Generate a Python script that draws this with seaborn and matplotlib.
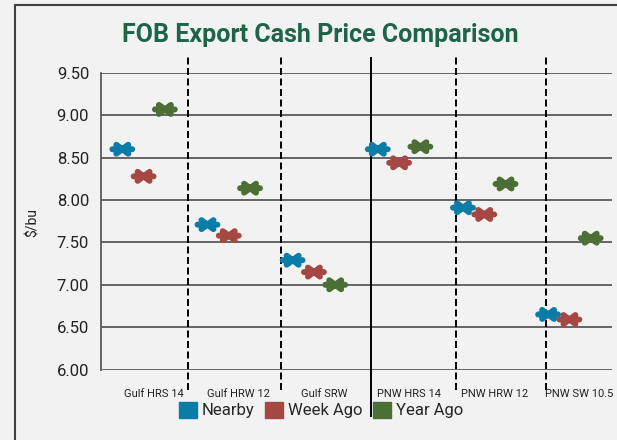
import numpy as np
import pandas as pd
import matplotlib
matplotlib.use('Agg')
import matplotlib.pyplot as plt
import matplotlib.transforms as mtransforms
from matplotlib.path import Path
from matplotlib.markers import MarkerStyle
from matplotlib.patches import Patch
from matplotlib.lines import Line2D
import seaborn as sns

# data
products = ['Gulf HRS 14', 'Gulf HRW 12', 'Gulf SRW', 'PNW HRS 14', 'PNW HRW 12', 'PNW SW 10.5']
nearby = [8.60, 7.71, 7.29, 8.60, 7.91, 6.65]
week_ago = [8.28, 7.58, 7.15, 8.44, 7.83, 6.59]
year_ago = [9.07, 8.14, 7.00, 8.63, 8.19, 7.55]
series_names = ['Nearby', 'Week Ago', 'Year Ago']
colors = ['#0a7ca8', '#a54743', '#4b6f35']

sns.set_theme(style='white')
plt.rcParams['font.family'] = ['Roboto', 'DejaVu Sans']
bg = '#f2f2f2'

fig = plt.figure(figsize=(6.17, 4.40), dpi=100, facecolor=bg)
ax = fig.add_axes([101/617, 1 - 369.5/440, (612 - 101)/617, (369.5 - 73)/440])
ax.set_facecolor(bg)

# long table, one row per marker
rows = []
for s, vals in zip(series_names, [nearby, week_ago, year_ago]):
    for i, v in enumerate(vals):
        rows.append({'Product': products[i], 'idx': i, 'Series': s, 'Price': v})
df = pd.DataFrame(rows)
offsets = {'Nearby': -0.25, 'Week Ago': 0.0, 'Year Ago': 0.25}
df['x'] = df['idx'] + df['Series'].map(offsets)

# six-petal marker like the excel one
verts = [(-10, 0), (10, 0), (-6, -4.5), (6, 4.5), (-6, 4.5), (6, -4.5)]
codes = [Path.MOVETO, Path.LINETO] * 3
petal = MarkerStyle(Path(verts, codes), fillstyle='none')

for s, c in zip(series_names, colors):
    sub = df[df['Series'] == s]
    sns.scatterplot(data=sub, x='x', y='Price', ax=ax, marker=petal, s=205,
                    color=c, edgecolor=c, linewidth=4.3, legend=False, zorder=5)
    coll = ax.collections[-1]
    coll.set_capstyle('round')
    coll.set_joinstyle('round')

ax.set_xlim(-0.5, 5.5)
ax.set_ylim(6.0, 9.5)
ax.set_yticks(np.arange(6.0, 9.51, 0.5))
ax.set_yticklabels([f'{t:.2f}' for t in np.arange(6.0, 9.51, 0.5)], fontsize=12)
ax.yaxis.grid(True, color='#5a5a5a', linewidth=1.3)
ax.set_axisbelow(True)
ax.tick_params(axis='y', length=0, pad=8.5, colors='#222222')
ax.set_xticks(range(len(products)))
ax.set_xticklabels(products, fontsize=8)
ax.tick_params(axis='x', length=0, pad=14, colors='#222222')
shift = mtransforms.ScaledTranslation(0.10, 0, fig.dpi_scale_trans)
for lab in ax.get_xticklabels():
    lab.set_transform(lab.get_transform() + shift)
ax.set_xlabel('')
ax.set_ylabel('')
for sp in ['top', 'right', 'bottom']:
    ax.spines[sp].set_visible(False)
ax.spines['left'].set_color('#5a5a5a')
ax.spines['left'].set_linewidth(1.3)

# separators between gulf / pnw groups
ax.vlines([0.52, 1.61, 3.67, 4.72], 5.76, 9.69, colors='black', linewidth=1.4,
          linestyles=(0, (3.6, 1.8)), clip_on=False, zorder=3)
ax.vlines([2.67], 5.44, 9.69, colors='black', linewidth=1.4, clip_on=False, zorder=3)

fig.text(320/617, 1 - 35/440, 'FOB Export Cash Price Comparison', ha='center', va='center',
         fontsize=18, fontweight='bold', color='#1e6446')
fig.text(33/617, 1 - 222/440, '$/bu', rotation=90, ha='center', va='center',
         fontsize=10, color='#222222')

handles = [Patch(facecolor=c, edgecolor=c) for c in colors]
fig.legend(handles, series_names, loc='center', bbox_to_anchor=(321/617, 1 - 410/440),
           ncol=3, frameon=False, fontsize=12, handlelength=1.1, handleheight=1.1,
           handletextpad=0.3, columnspacing=0.6, borderpad=0)

# frame around the chart (only left and top visible)
fig.add_artist(Line2D([15/617, 15/617], [0, 1 - 5/440], color='#404040', linewidth=1.5))
fig.add_artist(Line2D([15/617, 1], [1 - 5/440, 1 - 5/440], color='#404040', linewidth=1.5))

fig.savefig('out.png', dpi=100, facecolor=bg)
